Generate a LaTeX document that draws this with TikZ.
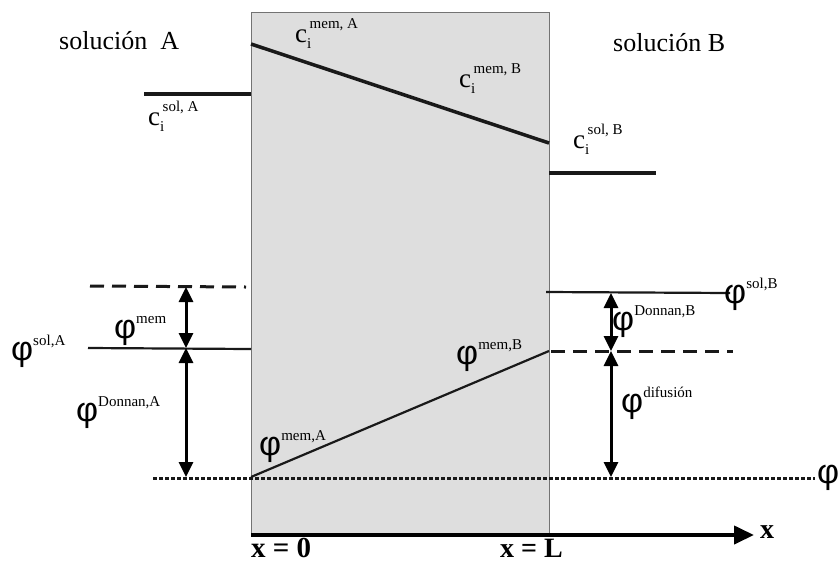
\documentclass[tikz,border=0pt]{standalone}
\usepackage{fontspec}
\setmainfont{Liberation Serif}
\newfontfamily\phifont{Liberation Sans}
\usetikzlibrary{arrows.meta}

\newcommand{\supsize}{\fontsize{15}{15}\selectfont}
\newcommand{\bigsize}{\fontsize{27}{27}\selectfont}
\newcommand{\phisize}{\fontsize{34}{34}\selectfont}
% c with index i and a superscript
\newcommand{\cidx}[1]{{\bigsize c}\rlap{\raisebox{-6pt}{\supsize i}}\raisebox{14pt}{\supsize\,#1}}
% phi with a superscript
\newcommand{\phiup}[1]{{\phifont\phisize φ}\raisebox{15pt}{\supsize #1}}

\tikzset{
  conc/.style={line width=3.5pt, color=black!90},
  pot/.style={line width=2.2pt, color=black!90},
  potdash/.style={line width=3pt, color=black!90, dash pattern=on 14pt off 8pt},
  refdot/.style={line width=3pt, color=black!90, dash pattern=on 4pt off 2pt},
  gap/.style={line width=3pt, {Triangle[width=14pt,length=15pt]}-{Triangle[width=14pt,length=15pt]}},
  lbl/.style={anchor=base west, inner sep=0pt}
}

\begin{document}
\begin{tikzpicture}[x=1pt, y=-1pt]
  \useasboundingbox (0,0) rectangle (840,563);

  % membrane
  \fill[black!13] (251,12) rectangle (549,535);
  \draw[black!55, line width=1pt] (251,535) -- (251,12) -- (549,12) -- (549,535);

  % x axis
  \draw[line width=4pt, -{Triangle[width=18pt,length=20pt]}] (251,535) -- (754,535);
  \node[lbl, font=\bfseries\fontsize{28}{28}\selectfont] (xlab) at (760,538) {x};
  \node[lbl, font=\bfseries\fontsize{29}{29}\selectfont] (x0) at (251,557) {x = 0};
  \node[lbl, font=\bfseries\fontsize{28}{28}\selectfont] (xL) at (500,557) {x = L};

  % solutions
  \node[lbl, font=\fontsize{26}{26}\selectfont] (solA) at (59,49) {solución\ \ A};
  \node[lbl, font=\fontsize{26}{26}\selectfont] (solB) at (613,51) {solución B};

  % concentration profile
  \draw[conc] (144,94) -- (251,94);
  \draw[conc] (251,44) -- (549,143);
  \draw[conc] (549,173) -- (656,173);
  \node[lbl] (cmemA) at (295,42) {\cidx{mem, A}};
  \node[lbl] (cmemB) at (459,87) {\cidx{mem, B}};
  \node[lbl] (csolA) at (148,125) {\cidx{sol, A}};
  \node[lbl] (csolB) at (573,148) {\cidx{sol, B}};

  % potential profile
  \draw[potdash] (90,286) -- (246,287);
  \draw[pot] (88,348) -- (251,349);
  \draw[pot] (251,477) -- (549,351);
  \draw[pot] (546,292) -- (730,293);
  \draw[potdash] (551,351) -- (733,351);
  \draw[refdot] (153,478) -- (815,478);

  \coordinate (aT) at (186,287);
  \coordinate (aM) at (186,348);
  \coordinate (aB) at (186,477);
  \coordinate (bT) at (611,293);
  \coordinate (bM) at (611,351);
  \coordinate (bB) at (611,477);
  \draw[gap] (aT) -- (aM);
  \draw[gap] (aM) -- (aB);
  \draw[gap] (bT) -- (bM);
  \draw[gap] (bM) -- (bB);

  \node[lbl] (psolA) at (11,360) {\phiup{sol,A}};
  \node[lbl] (pmem) at (114,338) {\phiup{mem}};
  \node[lbl] (pdonA) at (76,421) {\phiup{Donnan,A}};
  \node[lbl] (pmemA) at (259,455) {\phiup{mem,A}};
  \node[lbl] (pmemB) at (456,364) {\phiup{mem,B}};
  \node[lbl] (psolB) at (724,303) {\phiup{sol,B}};
  \node[lbl] (pdonB) at (612,330) {\phiup{Donnan,B}};
  \node[lbl] (pdif) at (621,412) {\phiup{difusión}};
  \node[lbl] (pref) at (817,483) {{\phifont\phisize φ}};
\end{tikzpicture}
\end{document}
